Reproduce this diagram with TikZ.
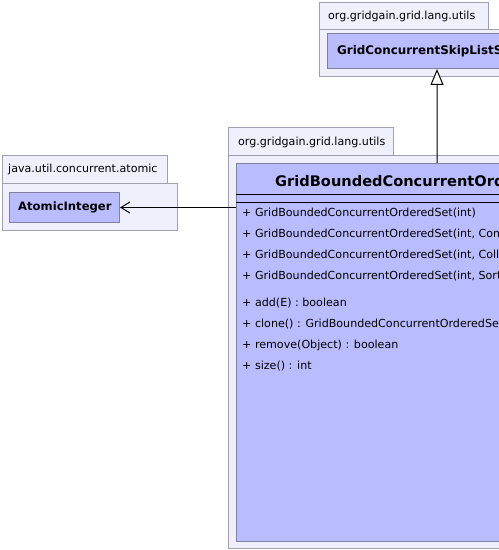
\documentclass[tikz,border=0pt]{standalone}
\usepackage{fontspec}
\setmainfont{DejaVu Sans}
\usetikzlibrary{arrows.meta}
\definecolor{pkgfill}{RGB}{240,240,252}
\definecolor{pkgline}{RGB}{160,160,178}
\definecolor{clsfill}{RGB}{185,188,255}
\definecolor{clsline}{RGB}{128,128,160}
\tikzset{
  pkg/.style={draw=pkgline, fill=pkgfill, line width=1bp, rectangle, inner sep=0pt, anchor=north west},
  cls/.style={draw=clsline, fill=clsfill, line width=1bp, rectangle, inner sep=0pt, anchor=north west},
  tabtext/.style={font=\fontsize{11.1bp}{13bp}\selectfont, anchor=west, inner sep=0pt},
  clsname/.style={font=\fontsize{12bp}{14bp}\selectfont\bfseries, anchor=west, inner sep=0pt},
  title/.style={font=\fontsize{14.6bp}{16bp}\selectfont\bfseries, anchor=west, inner sep=0pt},
  member/.style={font=\fontsize{11.1bp}{13bp}\selectfont, anchor=west, inner sep=0pt},
  gen/.style={draw=black, line width=1bp, -{Triangle[open, fill=white, length=16bp, width=13bp]}},
  assoc/.style={draw=black, line width=1bp, -{Straight Barb[length=9bp, width=11bp]}},
}
\begin{document}
\begin{tikzpicture}[x=1bp,y=-1bp]
\useasboundingbox (0,0) rectangle (499,550);
\clip (0,0) rectangle (499,550);
\fill[white] (0,0) rectangle (499,550);
% top package
\node[pkg, minimum width=169bp, minimum height=27bp] (toptab) at (319,2) {};
\node[pkg, minimum width=240bp, minimum height=47bp] (topbody) at (319,29) {};
\node[tabtext] (toptabtxt) at (328,16) {org.gridgain.grid.lang.utils};
\node[cls, minimum width=220bp, minimum height=35bp] (topc) at (327,33) {};
\node[clsname, font=\fontsize{11.9bp}{14bp}\selectfont\bfseries] (topcname) at (337,51) {GridConcurrentSkipListSet};
% left package
\node[pkg, minimum width=165bp, minimum height=28bp] (lefttab) at (2,155) {};
\node[pkg, minimum width=175bp, minimum height=47bp] (leftbody) at (2,183) {};
\node[tabtext] (lefttabtxt) at (8,169) {java.util.concurrent.atomic};
\node[cls, minimum width=110bp, minimum height=30bp] (atom) at (9,192) {};
\node[clsname, font=\fontsize{11.6bp}{14bp}\selectfont\bfseries] (atomname) at (18,207) {AtomicInteger};
% main package
\node[pkg, minimum width=165bp, minimum height=28bp] (maintab) at (228,127) {};
\node[pkg, minimum width=340bp, minimum height=393bp] (mainbody) at (228,155) {};
\node[tabtext] (maintabtxt) at (238,142) {org.gridgain.grid.lang.utils};
\node[cls, minimum width=324bp, minimum height=378bp] (main) at (236,163) {};
\node[title] (maintitle) at (275,181) {GridBoundedConcurrentOrderedSet};
\draw[black, line width=1bp] ([yshift=-31bp]main.north west) -- ([yshift=-31bp]main.north east);
\draw[black, line width=1bp] ([yshift=-39bp]main.north west) -- ([yshift=-39bp]main.north east);
\node[member] (m1) at (242,213) {+ GridBoundedConcurrentOrderedSet(int)};
\node[member] (m2) at (242,234) {+ GridBoundedConcurrentOrderedSet(int, Comparator)};
\node[member] (m3) at (242,255) {+ GridBoundedConcurrentOrderedSet(int, Collection)};
\node[member] (m4) at (242,276) {+ GridBoundedConcurrentOrderedSet(int, SortedSet)};
\node[member] (m5) at (242,303) {+ add(E) : boolean};
\node[member] (m6) at (242,324) {+ clone() : GridBoundedConcurrentOrderedSet};
\node[member] (m7) at (242,345) {+ remove(Object) : boolean};
\node[member] (m8) at (242,366) {+ size() : int};
% connectors
\draw[gen] ([xshift=201bp]main.north west) -- ([xshift=110bp]topc.south west);
\draw[assoc] (main.west |- atom.east) -- (atom.east);
\end{tikzpicture}
\end{document}
